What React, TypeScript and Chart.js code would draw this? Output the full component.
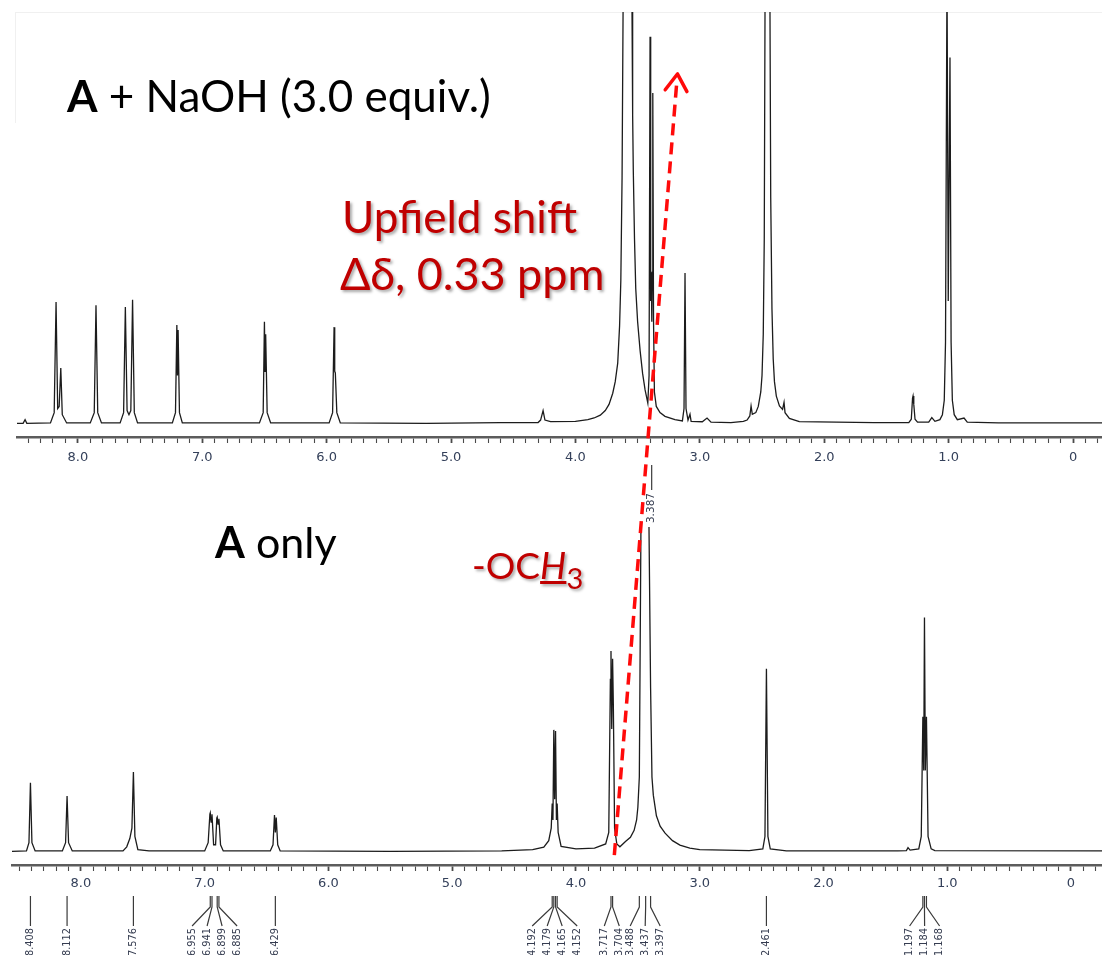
import React, { useEffect, useRef } from "react";
import { Chart, registerables } from "chart.js";

Chart.register(...registerables);

// ---------- data ----------
const axisMajorPpm = [8, 7, 6, 5, 4, 3, 2, 1, 0];
const axisMajorLabels = ["8.0", "7.0", "6.0", "5.0", "4.0", "3.0", "2.0", "1.0", "0"];

// A + NaOH (3.0 equiv.) trace: [ppm, intensity]
const topSpectrum: [number, number][] = [
  [8.5, 0.4], [8.44, 0.4], [8.424, 1.3], [8.41, 0.4],
  [8.22, 0.5], [8.19, 3], [8.175, 29.8], [8.162, 4], [8.15, 4.5], [8.137, 13.8], [8.125, 2.5], [8.09, 0.5],
  [7.9, 0.5], [7.868, 3], [7.854, 29], [7.84, 3], [7.81, 0.5],
  [7.66, 0.5], [7.632, 3], [7.618, 28.6], [7.604, 3.5], [7.589, 2.5], [7.574, 3.5], [7.56, 30.3], [7.546, 3], [7.52, 0.5],
  [7.24, 0.5], [7.215, 3], [7.204, 24.2], [7.199, 12], [7.194, 23], [7.183, 3], [7.16, 0.5],
  [6.54, 0.5], [6.51, 3], [6.5, 25], [6.495, 13], [6.49, 22], [6.478, 3], [6.45, 0.5],
  [5.98, 0.5], [5.952, 3], [5.94, 23.7], [5.935, 13], [5.93, 12.6], [5.918, 3], [5.89, 0.5],
  [5.2, 0.4], [4.6, 0.6], [4.3, 0.6], [4.28, 1.2], [4.26, 3.5], [4.245, 1.2], [4.2, 0.8],
  [4.0, 0.9], [3.9, 1.3], [3.85, 1.7], [3.8, 2.4], [3.76, 3.5], [3.73, 5], [3.7, 7.7], [3.68, 10.5], [3.66, 15],
  [3.645, 24], [3.635, 35], [3.625, 60], [3.617, 100],
  [3.6, 250], [3.58, 400], [3.56, 250], [3.545, 100], [3.54, 75], [3.535, 62], [3.525, 45], [3.515, 33], [3.5, 25],
  [3.48, 18], [3.46, 12.5], [3.44, 8.5], [3.418, 5.3],
  [3.408, 12], [3.4, 94], [3.395, 30], [3.39, 37], [3.386, 25], [3.382, 37], [3.378, 80.4], [3.372, 25], [3.365, 8],
  [3.35, 4.5], [3.32, 3], [3.28, 2.1], [3.2, 1.3],
  [3.14, 1], [3.127, 4], [3.119, 36.8], [3.111, 4], [3.095, 1.2], [3.079, 2.6], [3.07, 0.9], [2.98, 0.8], [2.942, 1.7],
  [2.91, 0.7], [2.75, 0.6], [2.65, 0.9], [2.62, 1.2], [2.598, 2.2], [2.588, 4.6], [2.578, 2.6],
  [2.55, 3], [2.53, 4.5], [2.51, 8], [2.5, 12], [2.49, 22], [2.482, 45], [2.476, 100], [2.466, 300], [2.456, 400],
  [2.446, 300], [2.436, 100], [2.43, 55], [2.42, 28], [2.41, 16], [2.4, 10.5], [2.385, 7], [2.36, 4.6],
  [2.335, 3.8], [2.323, 5.5], [2.315, 3], [2.28, 1.6], [2.2, 0.8], [1.6, 0.6],
  [1.32, 0.6], [1.3, 1.4], [1.29, 6.5], [1.286, 7], [1.28, 5], [1.27, 1.4], [1.25, 0.7], [1.16, 0.7], [1.135, 1.8], [1.11, 0.9],
  [1.07, 1.3], [1.05, 2.5], [1.035, 6], [1.025, 20], [1.013, 110], [1.003, 30], [0.989, 89], [0.98, 20], [0.97, 6],
  [0.955, 2.5], [0.93, 1.3], [0.876, 1.7], [0.85, 0.7], [0.6, 0.5], [-0.25, 0.5],
];

// A only trace: [ppm, intensity]
const bottomSpectrum: [number, number][] = [
  [8.56, 0.4], [8.44, 0.5], [8.42, 2.5], [8.408, 17], [8.396, 2.5], [8.37, 0.5],
  [8.15, 0.5], [8.124, 2.5], [8.112, 13.8], [8.1, 2.5], [8.07, 0.5],
  [7.66, 0.5], [7.63, 1.5], [7.605, 3.5], [7.588, 6], [7.576, 19.6], [7.564, 4], [7.54, 0.8], [7.45, 0.5],
  [7.0, 0.5], [6.972, 2.5], [6.958, 9.4], [6.955, 9.7], [6.948, 7.5], [6.941, 9.4], [6.928, 2], [6.912, 2],
  [6.902, 8.5], [6.899, 8.7], [6.892, 7], [6.885, 8.3], [6.872, 2], [6.85, 0.5],
  [6.47, 0.5], [6.448, 2], [6.436, 9.2], [6.429, 5], [6.422, 8.6], [6.41, 2], [6.39, 0.5],
  [5.5, 0.4], [4.6, 0.5], [4.35, 0.8], [4.26, 1.4], [4.22, 3],
  [4.2, 6], [4.192, 12], [4.186, 8], [4.179, 29.8], [4.172, 13], [4.165, 29.5], [4.158, 8], [4.152, 12], [4.144, 5],
  [4.12, 1.6], [4.0, 1], [3.85, 1.2], [3.76, 2.2],
  [3.735, 5], [3.722, 42], [3.717, 48.9], [3.711, 30], [3.704, 47], [3.698, 36], [3.688, 6], [3.67, 2.2], [3.645, 1.5],
  [3.6, 2.8], [3.56, 3.8], [3.53, 5.5], [3.51, 8], [3.5, 11], [3.488, 18.4], [3.475, 79], [3.46, 130], [3.445, 150],
  [3.425, 130], [3.41, 79], [3.397, 40], [3.386, 18.4], [3.375, 14], [3.35, 9], [3.32, 6.5], [3.28, 4.8], [3.22, 3],
  [3.16, 1.9], [3.08, 1.2], [3.0, 0.8],
  [2.6, 0.6], [2.49, 1], [2.473, 4], [2.461, 44.6], [2.449, 4], [2.43, 1], [2.3, 0.5],
  [1.4, 0.5], [1.33, 0.6], [1.317, 1.3], [1.3, 0.7], [1.23, 1], [1.21, 4], [1.197, 33], [1.19, 20], [1.184, 57],
  [1.177, 20], [1.168, 33], [1.155, 4], [1.13, 1], [1.1, 0.6], [-0.26, 0.5],
];

const topPeakLabels: number[][] = [[3.387]];
const bottomPeakLabels: number[][] = [
  [8.408], [8.112], [7.576], [6.955, 6.941, 6.899, 6.885], [6.429],
  [4.192, 4.179, 4.165, 4.152], [3.717, 3.704], [3.488, 3.437, 3.397], [2.461], [1.197, 1.184, 1.168],
];

// Upfield-shift arrow: from the -OCH3 of A (bottom) to the shifted position (top)
const shiftFromPpm = 3.69;
const shiftFromIntensity = -0.5;
const shiftToPpm = 3.18;
const shiftToIntensity = 85;

// ---------- layout ----------
const W = 1102;
const H = 955;

type Panel = {
  top: number; height: number; padTop: number; padLeft: number; axisHeight: number;
  xMin: number; xMax: number; yMin: number; yMax: number; labelPadding: number;
  stubTop: number; stubMid: number; stubEnd: number; textTop: number; labelFont: number;
};

const topPanel: Panel = {
  top: 0, height: 540, padTop: 12, padLeft: 17, axisHeight: 103,
  xMin: -0.233, xMax: 8.489, yMin: -2.9, yMax: 100, labelPadding: 7,
  stubTop: 28, stubMid: 40, stubEnd: 53, textTop: 56, labelFont: 10.5,
};
const bottomPanel: Panel = {
  top: 480, height: 475, padTop: 47, padLeft: 12, axisHeight: 90,
  xMin: -0.2505, xMax: 8.557, yMin: -2.9, yMax: 78.9, labelPadding: 5,
  stubTop: 31, stubMid: 42, stubEnd: 61, textTop: 63, labelFont: 9.8,
};

function isMajor(v: number) {
  return axisMajorPpm.some((m) => Math.abs(m - v) < 1e-6);
}

function peakLabelPlugin(groups: number[][], p: Panel) {
  return {
    id: "peakLabels",
    afterDraw(chart: any) {
      const ctx = chart.ctx as CanvasRenderingContext2D;
      const xs = chart.scales.x;
      const base = chart.chartArea.bottom;
      const spacing = 15;
      ctx.save();
      ctx.strokeStyle = "#3a3a3a";
      ctx.lineWidth = 1.2;
      ctx.fillStyle = "#353c50";
      ctx.font = `${p.labelFont}px "DejaVu Sans", sans-serif`;
      for (const g of groups) {
        const px = g.map((v) => xs.getPixelForValue(v));
        const center = px.reduce((a, b) => a + b, 0) / px.length;
        const tx = g.map((_, i) => (g.length === 1 ? px[0] : center + (i - (g.length - 1) / 2) * spacing));
        g.forEach((v, i) => {
          ctx.beginPath();
          if (g.length === 1) {
            ctx.moveTo(px[i], base + p.stubTop);
            ctx.lineTo(px[i], base + p.stubEnd);
          } else {
            ctx.moveTo(px[i], base + p.stubTop);
            ctx.lineTo(px[i], base + p.stubMid);
            ctx.lineTo(tx[i], base + p.stubEnd);
          }
          ctx.stroke();
          ctx.save();
          ctx.translate(tx[i], base + p.textTop);
          ctx.rotate(-Math.PI / 2);
          ctx.textAlign = "right";
          ctx.textBaseline = "middle";
          ctx.fillText(v.toFixed(3), 0, 0);
          ctx.restore();
        });
      }
      ctx.restore();
    },
  };
}

function buildChart(canvas: HTMLCanvasElement, points: [number, number][], p: Panel, groups: number[][]) {
  return new Chart(canvas, {
    type: "line",
    data: {
      datasets: [
        {
          data: points.map(([x, y]) => ({ x, y })),
          borderColor: "#1c1c1c",
          borderWidth: 1.3,
          pointRadius: 0,
          tension: 0,
          fill: false,
        },
      ],
    },
    options: {
      animation: false,
      responsive: false,
      devicePixelRatio: 1,
      events: [],
      layout: { padding: { top: p.padTop, left: p.padLeft, right: 0, bottom: 0 } },
      plugins: { legend: { display: false }, tooltip: { enabled: false } },
      scales: {
        x: {
          type: "linear",
          reverse: true,
          min: p.xMin,
          max: p.xMax,
          position: "bottom",
          afterBuildTicks: (scale: any) => {
            const t: { value: number }[] = [];
            for (let i = Math.ceil(p.xMin * 10); i <= Math.floor(p.xMax * 10); i++) t.push({ value: i / 10 });
            scale.ticks = t;
          },
          afterFit: (scale: any) => {
            scale.height = p.axisHeight;
          },
          ticks: {
            autoSkip: false,
            maxRotation: 0,
            minRotation: 0,
            padding: p.labelPadding,
            color: "#34405a",
            font: { family: '"DejaVu Sans", sans-serif', size: 13 },
            callback: (v: any) => {
              const i = axisMajorPpm.findIndex((m) => Math.abs(m - Number(v)) < 1e-6);
              return i >= 0 ? axisMajorLabels[i] : "";
            },
          },
          grid: {
            display: true,
            drawOnChartArea: false,
            drawTicks: true,
            tickLength: 6,
            tickColor: "#4a4a4a",
            tickWidth: (c: any) => (c.tick && isMajor(c.tick.value) ? 1.8 : 1.1),
          },
          border: { display: true, color: "#5c5c5c", width: 2.5 },
        },
        y: { type: "linear", display: false, min: p.yMin, max: p.yMax },
      },
    } as any,
    plugins: [peakLabelPlugin(groups, p)],
  });
}

const redText: React.CSSProperties = {
  position: "absolute",
  color: "#c00000",
  fontFamily: "Lato, 'Open Sans', sans-serif",
  whiteSpace: "nowrap",
  lineHeight: 1,
  textShadow: "2px 2px 3px rgba(0,0,0,0.35)",
};
const blackText: React.CSSProperties = {
  position: "absolute",
  color: "#000",
  fontFamily: "Lato, 'Open Sans', sans-serif",
  whiteSpace: "nowrap",
  lineHeight: 1,
};

export default function App() {
  const topRef = useRef<HTMLCanvasElement>(null);
  const botRef = useRef<HTMLCanvasElement>(null);
  const overlayRef = useRef<HTMLCanvasElement>(null);

  useEffect(() => {
    if (!topRef.current || !botRef.current || !overlayRef.current) return;
    const top = buildChart(topRef.current, topSpectrum, topPanel, topPeakLabels);
    const bot = buildChart(botRef.current, bottomSpectrum, bottomPanel, bottomPeakLabels);

    const ctx = overlayRef.current.getContext("2d")!;
    ctx.clearRect(0, 0, W, H);
    const x0 = (bot.scales.x as any).getPixelForValue(shiftFromPpm);
    const y0 = bottomPanel.top + (bot.scales.y as any).getPixelForValue(shiftFromIntensity);
    const x1 = (top.scales.x as any).getPixelForValue(shiftToPpm);
    const y1 = topPanel.top + (top.scales.y as any).getPixelForValue(shiftToIntensity);
    const ang = Math.atan2(y0 - y1, x0 - x1);
    ctx.save();
    ctx.strokeStyle = "#ff0a0a";
    ctx.lineWidth = 3.5;
    ctx.setLineDash([12, 7]);
    ctx.beginPath();
    ctx.moveTo(x0, y0);
    ctx.lineTo(x1 + Math.cos(ang) * 5, y1 + Math.sin(ang) * 5);
    ctx.stroke();
    ctx.setLineDash([]);
    ctx.lineCap = "round";
    ctx.lineJoin = "round";
    const arm = 20;
    const spread = (33 * Math.PI) / 180;
    ctx.beginPath();
    ctx.moveTo(x1 + Math.cos(ang - spread) * arm, y1 + Math.sin(ang - spread) * arm);
    ctx.lineTo(x1, y1);
    ctx.lineTo(x1 + Math.cos(ang + spread) * arm, y1 + Math.sin(ang + spread) * arm);
    ctx.stroke();
    ctx.restore();

    return () => {
      top.destroy();
      bot.destroy();
    };
  }, []);

  return (
    <div style={{ position: "absolute", left: 0, top: 0, width: W, height: H, background: "#fff", overflow: "hidden" }}>
      <div style={{ position: "absolute", left: 15, top: 12, width: W - 15, height: 110, borderTop: "1px solid #f0f0f0", borderLeft: "1px solid #f0f0f0" }} />
      <canvas ref={topRef} width={W} height={topPanel.height} style={{ position: "absolute", left: 0, top: topPanel.top }} />
      <canvas ref={botRef} width={W} height={bottomPanel.height} style={{ position: "absolute", left: 0, top: bottomPanel.top }} />
      <div style={{ ...blackText, left: 67, top: 73, fontSize: 44 }}>
        <b>A</b> + NaOH (3.0 equiv.)
      </div>
      <div style={{ ...redText, left: 342, top: 194, fontSize: 44 }}>Upfield shift</div>
      <div style={{ ...redText, left: 340, top: 251, fontSize: 45 }}>Δδ, 0.33 ppm</div>
      <div style={{ ...blackText, left: 215, top: 520, fontSize: 43 }}>
        <b>A</b> only
      </div>
      <div style={{ ...redText, left: 472, top: 546, fontSize: 37 }}>
        -OC<span style={{ fontStyle: "italic", textDecoration: "underline" }}>H</span>
        <span style={{ fontSize: 29, position: "relative", top: 10 }}>3</span>
      </div>
      <canvas ref={overlayRef} width={W} height={H} style={{ position: "absolute", left: 0, top: 0, pointerEvents: "none" }} />
    </div>
  );
}
